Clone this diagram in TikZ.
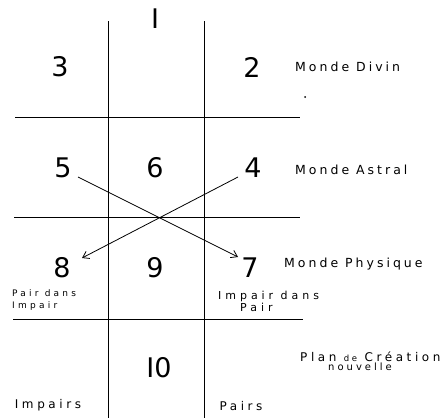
\documentclass[tikz,border=0pt]{standalone}
\usepackage{fontspec}
\usetikzlibrary{arrows.meta}
\setmainfont{DejaVu Sans}
\newfontfamily\numfont{DejaVu Sans}
\newfontfamily\labfont[LetterSpace=24]{DejaVu Sans}
\newfontfamily\labfontw[LetterSpace=30]{DejaVu Sans}
\newfontfamily\labfontx[LetterSpace=36]{DejaVu Sans}
\begin{document}
\begin{tikzpicture}[x=1pt,y=-1pt,
  grid/.style={line width=1pt},
  num/.style={font=\numfont\fontsize{27}{27}\selectfont, inner sep=0pt},
  lab/.style={font=\labfont\fontsize{12.5}{14}\selectfont, inner sep=0pt, anchor=west},
  small/.style={font=\labfontx\fontsize{9}{12}\selectfont, inner sep=0pt, align=left},
  arr/.style={line width=0.8pt,->,>={Straight Barb[length=6pt,width=8pt]}}]
\useasboundingbox (0,0) rectangle (441,418);
% grid
\coordinate (v1t) at (108,21); \coordinate (v1b) at (108,418);
\coordinate (v2t) at (204,21); \coordinate (v2b) at (204,418);
\coordinate (h1l) at (15,117); \coordinate (h1r) at (300,117);
\coordinate (h2l) at (14,217); \coordinate (h2r) at (300,217);
\coordinate (h3l) at (13,319); \coordinate (h3r) at (303,319);
\draw[grid] (v1t) -- (v1b);
\draw[grid] (v2t) -- (v2b);
\draw[grid] (h1l) -- (h1r);
\draw[grid] (h2l) -- (h2r);
\draw[grid] (h3l) -- (h3r);
% numbers
\node[num] (n1) at (155,19) {I};
\node[num] (n3) at (60,67) {3};
\node[num] (n2) at (252,67) {2};
\node[num] (n5) at (63,168) {5};
\node[num] (n6) at (155,168) {6};
\node[num] (n4) at (253,168) {4};
\node[num] (n8) at (62,268) {8};
\node[num] (n9) at (155,268) {9};
\node[num] (n7) at (250,268) {7};
\node[num] (n10) at (159,368) {I0};
% labels
\node[lab] (md) at (295,67) {Monde Divin};
\fill (305,97) circle (1pt);
\node[lab] (ma) at (295,170) {Monde Astral};
\node[lab] (mp) at (284,264) {Monde Physique};
\node[small, anchor=north west] (pdi) at (12,289) {Pair dans\\Impair};
\node[font=\labfontx\fontsize{11}{12}\selectfont, inner sep=0pt, anchor=north west, align=left] (idp) at (218,291) {Impair dans\\\hspace*{22pt}Pair};
\node[font=\labfontw\fontsize{12}{13}\selectfont, inner sep=0pt, anchor=north west, align=left] (plan) at (300,352) {Plan {\fontsize{8.5}{9}\selectfont de} Création\\[-4pt]\hspace*{28pt}{\fontsize{10}{10}\selectfont nouvelle}};
\node[font=\labfontw\fontsize{12}{13}\selectfont, inner sep=0pt] (imp) at (48,405) {Impairs};
\node[font=\labfontw\fontsize{12}{13}\selectfont, inner sep=0pt] (prs) at (241,406) {Pairs};
% arrows
\coordinate (a5) at (78,177); \coordinate (a7) at (238,257);
\coordinate (a4) at (238,177); \coordinate (a8) at (82,258);
\draw[arr] (a5) -- (a7);
\draw[arr] (a4) -- (a8);
\end{tikzpicture}
\end{document}
